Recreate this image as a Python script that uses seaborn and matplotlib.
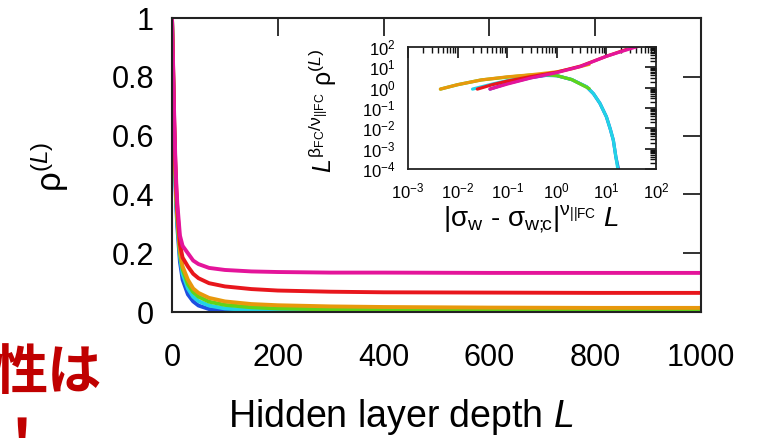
import numpy as np
import pandas as pd
import matplotlib
matplotlib.use("Agg")
import matplotlib.pyplot as plt
import seaborn as sns
from matplotlib.ticker import LogLocator, NullFormatter, FixedLocator

# ---------------- data ----------------
series = ["blue", "cyan", "green", "orange", "red", "magenta"]
colors = ["#1f4fe0", "#22d3e6", "#5fd41a", "#e8980c", "#e8161c", "#e4149a"]

depth_L = [0, 2, 4, 6, 8, 10, 15, 20, 30, 40, 50, 70, 100, 150, 200, 300, 400, 600, 800, 1000]
rho_blue    = [1, 0.80, 0.60, 0.46, 0.36, 0.29, 0.17, 0.11, 0.060, 0.036, 0.022, 0.010, 0.004, 0.001, 0.0003, 0, 0, 0, 0, 0]
rho_cyan    = [1, 0.81, 0.62, 0.48, 0.38, 0.31, 0.19, 0.13, 0.080, 0.052, 0.037, 0.022, 0.012, 0.006, 0.004, 0.002, 0.001, 0.0005, 0.0003, 0.0002]
rho_green   = [1, 0.82, 0.63, 0.49, 0.39, 0.32, 0.20, 0.145, 0.095, 0.068, 0.052, 0.035, 0.024, 0.016, 0.012, 0.009, 0.008, 0.007, 0.006, 0.006]
rho_orange  = [1, 0.83, 0.64, 0.50, 0.40, 0.33, 0.21, 0.155, 0.110, 0.080, 0.065, 0.048, 0.036, 0.027, 0.023, 0.019, 0.017, 0.015, 0.014, 0.014]
rho_red     = [1, 0.84, 0.66, 0.52, 0.42, 0.35, 0.23, 0.185, 0.155, 0.130, 0.115, 0.098, 0.087, 0.078, 0.073, 0.069, 0.067, 0.066, 0.065, 0.065]
rho_magenta = [1, 0.85, 0.68, 0.54, 0.44, 0.37, 0.26, 0.225, 0.200, 0.175, 0.163, 0.150, 0.143, 0.138, 0.136, 0.134, 0.134, 0.133, 0.133, 0.133]

# inset: scaling collapse
ins_blue_x    = [0.045, 0.1, 0.3, 0.6, 1, 2, 4, 5.5, 7.4, 10, 12, 13.8, 15.5, 17.5, 19]
ins_blue_y    = [0.85, 1.6, 3.1, 4.0, 3.9, 2.5, 1.1, 0.5, 0.17, 0.037, 0.009, 0.0026, 0.0004, 0.0001, 0.00004]
ins_cyan_x    = [0.02, 0.05, 0.1, 0.3, 0.6, 1, 2, 4, 5.5, 7.4, 10, 12, 13.8, 15.5, 17, 18]
ins_cyan_y    = [0.85, 1.5, 2.2, 3.5, 4.2, 3.9, 2.5, 1.1, 0.5, 0.17, 0.037, 0.009, 0.0026, 0.0004, 0.0001, 0.00005]
ins_green_x   = [0.0045, 0.01, 0.03, 0.1, 0.3, 0.6, 1, 2, 4.5]
ins_green_y   = [0.85, 1.4, 2.4, 3.3, 4.2, 4.4, 3.9, 2.5, 0.9]
ins_orange_x  = [0.0045, 0.01, 0.03, 0.1, 0.3, 1, 2, 4.5]
ins_orange_y  = [0.85, 1.4, 2.4, 3.4, 4.3, 6.0, 8.5, 14]
ins_red_x     = [0.025, 0.05, 0.1, 0.3, 1, 3, 10, 25]
ins_red_y     = [0.85, 1.4, 2.1, 3.5, 5.8, 11.5, 35, 75]
ins_magenta_x = [0.045, 0.1, 0.3, 1, 3, 10, 20, 45]
ins_magenta_y = [0.85, 1.5, 3.0, 5.5, 11, 35, 60, 110]

x_ticks_main = [0, 200, 400, 600, 800, 1000]
y_ticks_main = [0, 0.2, 0.4, 0.6, 0.8, 1]
y_tick_labels_main = ["0", "0.2", "0.4", "0.6", "0.8", "1"]

# ---------------- build tables ----------------
main_vals = [rho_blue, rho_cyan, rho_green, rho_orange, rho_red, rho_magenta]
main_df = pd.concat([pd.DataFrame({"L": depth_L, "rho": v, "series": s})
                     for s, v in zip(series, main_vals)], ignore_index=True)
ins_x = [ins_blue_x, ins_cyan_x, ins_green_x, ins_orange_x, ins_red_x, ins_magenta_x]
ins_y = [ins_blue_y, ins_cyan_y, ins_green_y, ins_orange_y, ins_red_y, ins_magenta_y]
ins_df = pd.concat([pd.DataFrame({"x": xs, "y": ys, "series": s})
                    for s, xs, ys in zip(series, ins_x, ins_y)], ignore_index=True)
palette = dict(zip(series, colors))

# ---------------- style ----------------
sns.set_theme(style="white")
plt.rcParams["font.family"] = ["Liberation Sans", "DejaVu Sans"]
plt.rcParams["mathtext.fontset"] = "custom"
plt.rcParams["mathtext.rm"] = "Liberation Sans"
plt.rcParams["mathtext.it"] = "Liberation Sans:italic"
plt.rcParams["mathtext.bf"] = "Liberation Sans:bold"
plt.rcParams["text.color"] = "black"
plt.rcParams["xtick.color"] = "black"
plt.rcParams["ytick.color"] = "black"
plt.rcParams["xtick.labelcolor"] = "black"
plt.rcParams["ytick.labelcolor"] = "black"

fig = plt.figure(figsize=(7.58, 4.38), dpi=100)
ax = fig.add_axes([172 / 758, 1 - 312 / 438, 529 / 758, 294 / 438])

sns.lineplot(data=main_df, x="L", y="rho", hue="series", hue_order=series,
             palette=palette, legend=False, lw=2.8, ax=ax, sort=True)
ax.set_xlim(0, 1000)
ax.set_ylim(0, 1)
ax.xaxis.set_major_locator(FixedLocator(x_ticks_main))
ax.yaxis.set_major_locator(FixedLocator(y_ticks_main))
ax.set_yticklabels(y_tick_labels_main)
ax.tick_params(axis="both", which="major", direction="in", length=13, width=1.3,
               color="#222222", labelsize=22, top=True, right=True)
ax.tick_params(axis="x", pad=22)
ax.tick_params(axis="y", pad=13)
for sp in ax.spines.values():
    sp.set_color("#222222")
    sp.set_linewidth(1.5)
ax.set_xlabel("")
ax.set_ylabel("")
fig.text(401 / 758, 1 - 417 / 438, "Hidden layer depth $L$", fontsize=27,
         ha="center", va="center")
fig.text(50 / 758, 1 - 167 / 438, r"$\mathrm{\rho}^{(L)}$", fontsize=25, rotation=90,
         ha="center", va="center")

# ---------------- inset ----------------
axi = fig.add_axes([408 / 758, 1 - 169 / 438, 248 / 758, 122 / 438])
sns.lineplot(data=ins_df, x="x", y="y", hue="series", hue_order=series,
             palette=palette, legend=False, lw=2.3, ax=axi, sort=True)
axi.set_xscale("log")
axi.set_yscale("log")
axi.set_xlim(1e-3, 1e2)
axi.set_ylim(1e-4, 1e2)
axi.xaxis.set_major_locator(LogLocator(base=10, numticks=20))
axi.yaxis.set_major_locator(LogLocator(base=10, numticks=20))
axi.xaxis.set_minor_locator(LogLocator(base=10, subs=np.arange(2, 10), numticks=40))
axi.yaxis.set_minor_locator(LogLocator(base=10, subs=np.arange(2, 10), numticks=40))
axi.xaxis.set_minor_formatter(NullFormatter())
axi.yaxis.set_minor_formatter(NullFormatter())
axi.tick_params(axis="both", which="major", direction="in", length=8, width=1.2,
                color="#111111", labelsize=12, top=True, right=True)
axi.tick_params(axis="x", which="major", pad=9)
axi.tick_params(axis="y", which="major", pad=9)
axi.tick_params(axis="both", which="minor", direction="in", length=4, width=1.0,
                color="#111111", top=True, right=True)
for sp in axi.spines.values():
    sp.set_color("#222222")
    sp.set_linewidth(1.3)
axi.set_xlabel("")
axi.set_ylabel("")
fig.text(531 / 758, 1 - 219 / 438,
         r"$|\mathrm{\sigma}_{\rm w}$ - $\mathrm{\sigma}_{\mathrm{w;\!\!c}}|^{\mathrm{\nu}_{||\rm FC}}\ L$",
         fontsize=20, ha="center", va="center")
fig.text(323 / 758, 1 - 111 / 438,
         r"$L^{\mathrm{\beta}_{\rm FC}/\mathrm{\nu}_{||\rm FC}}\ \mathrm{\rho}^{(L)}$",
         fontsize=18, rotation=90, ha="center", va="center")

# ---------------- slide fragment (Japanese text) ----------------
fig.text(-7 / 758, 1 - 374 / 438, "性は", fontsize=39, color="#c00000",
         fontweight="bold", family=["Noto Sans CJK JP", "DejaVu Sans"],
         ha="left", va="center")
fig.text(-5 / 758, 1 - 443 / 438, "！", fontsize=39, color="#c00000",
         fontweight="bold", family=["Noto Sans CJK JP", "DejaVu Sans"],
         ha="left", va="center")

fig.savefig("out.png", dpi=100)
